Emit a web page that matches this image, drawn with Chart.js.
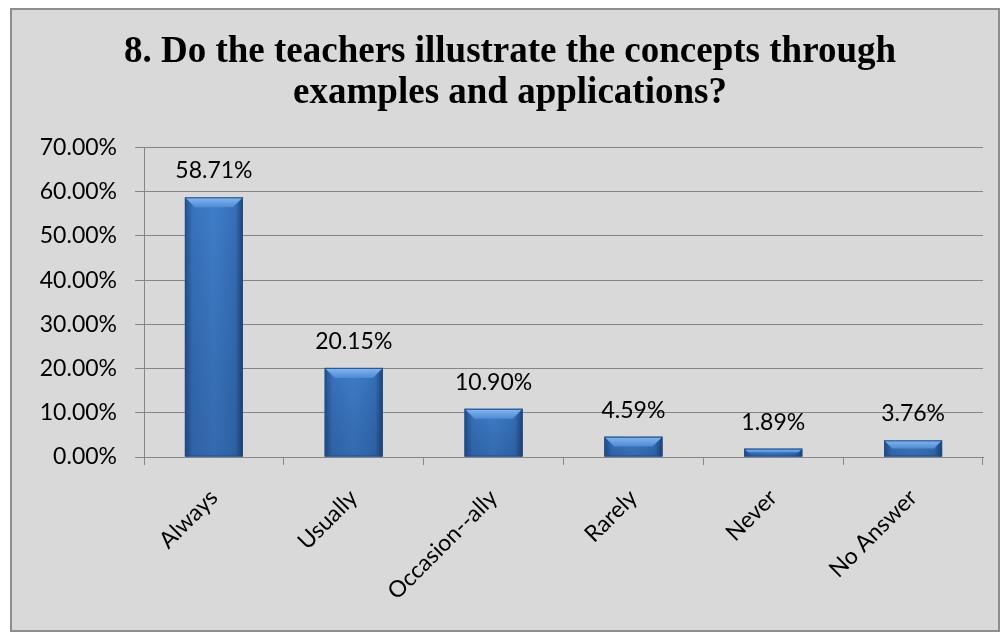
<!DOCTYPE html>
<html>
<head>
<meta charset="utf-8">
<script src="https://cdn.jsdelivr.net/npm/chart.js@4.4.1/dist/chart.umd.min.js"></script>
<style>
  html, body { margin: 0; padding: 0; background: #fff; }
  #frame {
    position: absolute; left: 10px; top: 8px; width: 990px; height: 624px;
    box-sizing: border-box; border: 2px solid #8e8e8e; background: #d9d9d9;
  }
  #chart { display: block; }
</style>
</head>
<body>
<div id="frame"><canvas id="chart" width="986" height="620"></canvas></div>
<script>
// values
const categories = ['Always', 'Usually', 'Occasion--ally', 'Rarely', 'Never', 'No Answer'];
const shares = [58.71, 20.15, 10.90, 4.59, 1.89, 3.76];
const yTicks = [0, 10, 20, 30, 40, 50, 60, 70];
const titleLines = ['8. Do the teachers illustrate the concepts through', 'examples and applications?'];

const pct = v => Number(v).toFixed(2) + '%';
const LABEL_FONT = { family: 'Lato', size: 23 };
const GRID = '#868686';

// Excel-style bevelled bars, drawn over the plain bars at the library's own positions
const bevelBars = {
    id: 'bevelBars',
    afterDatasetsDraw(chart) {
        const ctx = chart.ctx;
        chart.getDatasetMeta(0).data.forEach(bar => {
            const { x, y, base, width } = bar.getProps(['x', 'y', 'base', 'width'], true);
            const l = x - width / 2, r = x + width / 2, h = base - y;
            ctx.save();
            const g = ctx.createLinearGradient(l, 0, r, 0);
            g.addColorStop(0, '#22508c');
            g.addColorStop(0.13, '#3872bd');
            g.addColorStop(0.5, '#3f7ecb');
            g.addColorStop(0.87, '#3670ba');
            g.addColorStop(1, '#1e4478');
            ctx.fillStyle = g;
            ctx.fillRect(l, y, width, h);
            const v = ctx.createLinearGradient(0, y, 0, base);
            v.addColorStop(0, 'rgba(0,0,0,0)');
            v.addColorStop(1, 'rgba(10,30,70,0.2)');
            ctx.fillStyle = v;
            ctx.fillRect(l, y, width, h);
            const b = Math.min(10, h / 2);
            ctx.beginPath();
            ctx.moveTo(l, y); ctx.lineTo(r, y); ctx.lineTo(r - b, y + b); ctx.lineTo(l + b, y + b);
            ctx.closePath();
            const tg = ctx.createLinearGradient(0, y, 0, y + b);
            tg.addColorStop(0, '#86b8f0');
            tg.addColorStop(1, '#4e8ad4');
            ctx.fillStyle = tg;
            ctx.fill();
            ctx.strokeStyle = '#234d85';
            ctx.lineWidth = 1;
            ctx.strokeRect(l + 0.5, y + 0.5, width - 1, h - 1);
            ctx.restore();
        });
    }
};

const valueLabels = {
    id: 'valueLabels',
    afterDatasetsDraw(chart) {
        const ctx = chart.ctx;
        const ds = chart.data.datasets[0];
        ctx.save();
        ctx.font = LABEL_FONT.size + 'px ' + LABEL_FONT.family;
        ctx.fillStyle = '#000';
        ctx.textAlign = 'center';
        ctx.textBaseline = 'alphabetic';
        chart.getDatasetMeta(0).data.forEach((bar, i) => {
            ctx.fillText(pct(ds.data[i]), bar.x, bar.y - 19);
        });
        ctx.restore();
    }
};

new Chart(document.getElementById('chart'), {
    type: 'bar',
    data: {
        labels: categories,
        datasets: [{
            data: shares,
            backgroundColor: '#3b77c2',
            barPercentage: 0.415,
            categoryPercentage: 1,
        }],
    },
    options: {
        responsive: false, animation: false,
        layout: { padding: { left: 25, right: 15, top: 0, bottom: 0 } },
        plugins: {
            legend: { display: false },
            tooltip: { enabled: false },
            title: {
                display: true, text: titleLines, color: '#000',
                font: { family: 'Liberation Serif', size: 37, weight: 'bold', lineHeight: 1.1 },
                padding: { top: 22, bottom: 34 },
            },
        },
        scales: {
            x: {
                grid: { drawOnChartArea: false, drawTicks: true, tickLength: 8, color: GRID, offset: true },
                border: { color: GRID },
                ticks: { color: '#000', font: LABEL_FONT, minRotation: 45, maxRotation: 45, autoSkip: false, padding: 19 },
                afterFit: s => { s.height = 173; },
            },
            y: {
                min: yTicks[0], max: yTicks[yTicks.length - 1],
                grid: { color: GRID, tickLength: 9 },
                border: { color: GRID },
                ticks: { color: '#000', font: LABEL_FONT, padding: 18, callback: v => pct(v) },
                afterBuildTicks: s => { s.ticks = yTicks.map(v => ({ value: v })); },
                afterFit: s => { s.width = 107; },
            },
        },
    },
    plugins: [bevelBars, valueLabels],
});
</script>
</body>
</html>
